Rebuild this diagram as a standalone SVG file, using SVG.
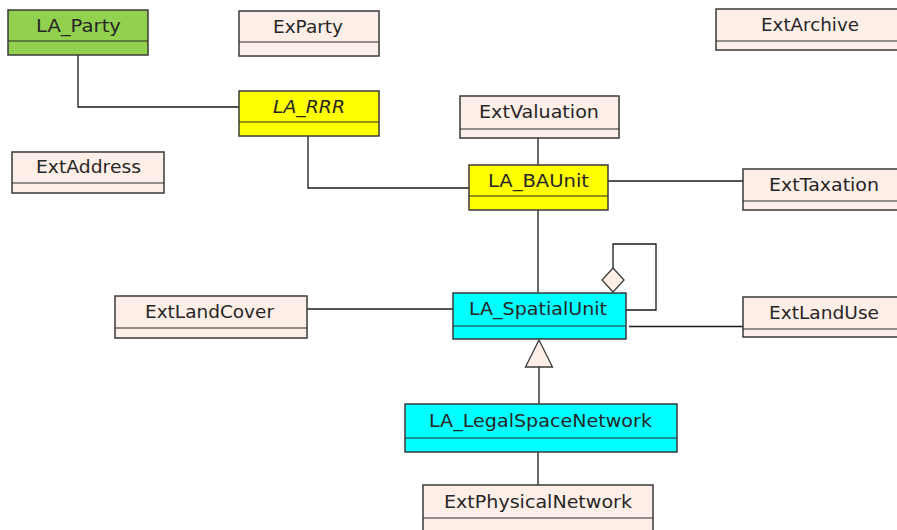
<svg xmlns="http://www.w3.org/2000/svg" width="897" height="530" viewBox="0 0 897 530">
  <style>
    .box { stroke: #3a3a3a; stroke-width: 1.5; }
    .div { stroke: #2a2a2a; stroke-width: 1.2; }
    .ext { fill: #fdefe7; }
    .green { fill: #92d050; }
    .yellow { fill: #ffff00; }
    .cyan { fill: #00ffff; }
    .label { font-family: "DejaVu Sans", sans-serif; font-size: 17px; fill: #262626; text-anchor: middle; }
    .italic { font-style: italic; }
    .conn { fill: none; stroke: #1a1a1a; stroke-width: 1.3; }
    .head { fill: #fdefe7; stroke: #3a3a3a; stroke-width: 1.3; }
  </style>

  <g id="connectors">
    <polyline class="conn" points="78,55 78,107 239,107"/>
    <polyline class="conn" points="308,136 308,188 469,188"/>
    <line class="conn" x1="538" y1="138" x2="538" y2="165"/>
    <line class="conn" x1="608" y1="181" x2="743" y2="181"/>
    <line class="conn" x1="538" y1="210" x2="538" y2="293"/>
    <line class="conn" x1="307" y1="309" x2="453" y2="309"/>
    <polyline class="conn" points="613,268 613,244 656,244 656,310 626,310"/>
    <polygon class="head" points="613,268 624,280 613,292 602,280"/>
    <line class="conn" x1="629" y1="326.5" x2="743" y2="326.5"/>
    <line class="conn" x1="539" y1="367" x2="539" y2="404"/>
    <polygon class="head" points="539,340 552.5,367 525.5,367"/>
    <line class="conn" x1="538" y1="452" x2="538" y2="485"/>
  </g>

  <g id="LA_Party">
    <rect class="box green" x="8" y="10" width="140" height="45"/>
    <line class="div" x1="8" y1="41" x2="148" y2="41"/>
    <text class="label" x="78.5" y="32" textLength="85" lengthAdjust="spacingAndGlyphs">LA_Party</text>
  </g>

  <g id="ExParty">
    <rect class="box ext" x="239" y="11" width="140" height="45"/>
    <line class="div" x1="239" y1="42" x2="379" y2="42"/>
    <text class="label" x="308" y="33" textLength="70" lengthAdjust="spacingAndGlyphs">ExParty</text>
  </g>

  <g id="ExtArchive">
    <rect class="box ext" x="716" y="9" width="190" height="41"/>
    <line class="div" x1="716" y1="41" x2="906" y2="41"/>
    <text class="label" x="810" y="31" textLength="98" lengthAdjust="spacingAndGlyphs">ExtArchive</text>
  </g>

  <g id="LA_RRR">
    <rect class="box yellow" x="239" y="91" width="140" height="45"/>
    <line class="div" x1="239" y1="122" x2="379" y2="122"/>
    <text class="label italic" x="309" y="113" textLength="72" lengthAdjust="spacingAndGlyphs">LA_RRR</text>
  </g>

  <g id="ExtAddress">
    <rect class="box ext" x="12" y="152" width="152" height="41"/>
    <line class="div" x1="12" y1="183" x2="164" y2="183"/>
    <text class="label" x="88.5" y="173" textLength="105" lengthAdjust="spacingAndGlyphs">ExtAddress</text>
  </g>

  <g id="ExtValuation">
    <rect class="box ext" x="460" y="96" width="159" height="42"/>
    <line class="div" x1="460" y1="129" x2="619" y2="129"/>
    <text class="label" x="539" y="118" textLength="120" lengthAdjust="spacingAndGlyphs">ExtValuation</text>
  </g>

  <g id="LA_BAUnit">
    <rect class="box yellow" x="469" y="165" width="139" height="45"/>
    <line class="div" x1="469" y1="196" x2="608" y2="196"/>
    <text class="label" x="538.5" y="187" textLength="101" lengthAdjust="spacingAndGlyphs">LA_BAUnit</text>
  </g>

  <g id="ExtTaxation">
    <rect class="box ext" x="743" y="169" width="163" height="41"/>
    <line class="div" x1="743" y1="201" x2="906" y2="201"/>
    <text class="label" x="824" y="191" textLength="110" lengthAdjust="spacingAndGlyphs">ExtTaxation</text>
  </g>

  <g id="ExtLandCover">
    <rect class="box ext" x="115" y="296" width="192" height="42"/>
    <line class="div" x1="115" y1="328" x2="307" y2="328"/>
    <text class="label" x="209.5" y="318" textLength="129" lengthAdjust="spacingAndGlyphs">ExtLandCover</text>
  </g>

  <g id="LA_SpatialUnit">
    <rect class="box cyan" x="453" y="293" width="173" height="46"/>
    <line class="div" x1="453" y1="326" x2="626" y2="326"/>
    <text class="label" x="538" y="315" textLength="138" lengthAdjust="spacingAndGlyphs">LA_SpatialUnit</text>
  </g>

  <g id="ExtLandUse">
    <rect class="box ext" x="743" y="297" width="163" height="40"/>
    <line class="div" x1="743" y1="329" x2="906" y2="329"/>
    <text class="label" x="824" y="319" textLength="110" lengthAdjust="spacingAndGlyphs">ExtLandUse</text>
  </g>

  <g id="LA_LegalSpaceNetwork">
    <rect class="box cyan" x="405" y="404" width="272" height="48"/>
    <line class="div" x1="405" y1="438" x2="677" y2="438"/>
    <text class="label" x="540.5" y="427" textLength="223" lengthAdjust="spacingAndGlyphs">LA_LegalSpaceNetwork</text>
  </g>

  <g id="ExtPhysicalNetwork">
    <rect class="box ext" x="423" y="485" width="230" height="55"/>
    <line class="div" x1="423" y1="518" x2="653" y2="518"/>
    <text class="label" x="538" y="508" textLength="188" lengthAdjust="spacingAndGlyphs">ExtPhysicalNetwork</text>
  </g>
</svg>
